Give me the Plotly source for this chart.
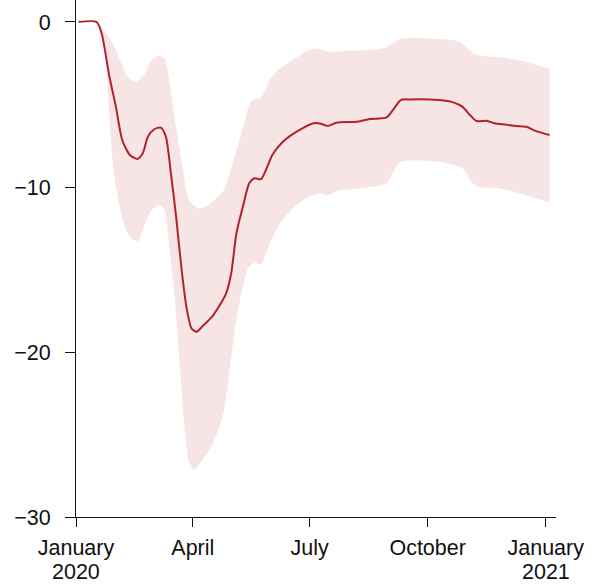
import plotly.graph_objects as go

# Central estimate (percent change) over 2020
mean_dates = [
    "2020-01-03", "2020-01-17", "2020-01-21", "2020-01-27", "2020-02-01", "2020-02-06",
    "2020-02-12", "2020-02-18", "2020-02-22", "2020-02-26", "2020-03-02", "2020-03-07",
    "2020-03-11", "2020-03-15", "2020-03-19", "2020-03-23", "2020-03-27", "2020-03-31",
    "2020-04-04", "2020-04-09", "2020-04-17", "2020-04-27", "2020-05-01", "2020-05-05",
    "2020-05-10", "2020-05-15", "2020-05-19", "2020-05-24", "2020-05-28", "2020-06-02",
    "2020-06-09", "2020-06-15", "2020-06-23", "2020-07-04", "2020-07-09", "2020-07-15",
    "2020-07-22", "2020-08-07", "2020-08-17", "2020-08-30", "2020-09-04", "2020-09-10",
    "2020-09-17", "2020-10-10", "2020-10-21", "2020-10-28", "2020-11-03", "2020-11-08",
    "2020-11-16", "2020-11-22", "2020-12-01", "2020-12-09", "2020-12-17", "2020-12-24",
    "2021-01-04",
]
mean_values = [
    0.0, 0.0, -0.7, -3.3, -5.1, -7.15,
    -8.06, -8.3, -7.96, -6.95, -6.5, -6.4,
    -6.95, -9.2, -11.8, -14.8, -17.25, -18.57,
    -18.77, -18.4, -17.76, -16.44, -15.2, -12.8,
    -11.2, -9.78, -9.47, -9.53, -8.97, -8.06,
    -7.35, -6.95, -6.55, -6.14, -6.15, -6.3,
    -6.1, -6.04, -5.88, -5.78, -5.33, -4.73,
    -4.69, -4.73, -4.87, -5.13, -5.64, -6.0,
    -5.98, -6.14, -6.22, -6.3, -6.35, -6.6,
    -6.85,
]

# Upper bound of the uncertainty interval
upper_dates = [
    "2020-01-03", "2020-01-18", "2020-01-24", "2020-01-29", "2020-02-05", "2020-02-10",
    "2020-02-17", "2020-02-23", "2020-02-29", "2020-03-06", "2020-03-10", "2020-03-14",
    "2020-03-19", "2020-03-24", "2020-03-29", "2020-04-06", "2020-04-14", "2020-04-25",
    "2020-05-02", "2020-05-09", "2020-05-16", "2020-05-20", "2020-05-24", "2020-05-31",
    "2020-06-08", "2020-06-18", "2020-06-28", "2020-07-06", "2020-07-17", "2020-08-01",
    "2020-08-27", "2020-09-04", "2020-09-10", "2020-10-05", "2020-10-26", "2020-11-01",
    "2020-11-08", "2020-11-26", "2020-12-17", "2020-12-27", "2021-01-04",
]
upper_values = [
    0.0, 0.0, -0.7, -1.2, -2.4, -3.3,
    -3.65, -3.2, -2.3, -2.06, -2.2, -3.7,
    -6.35, -8.77, -10.8, -11.3, -11.03, -10.2,
    -8.56, -6.75, -4.83, -4.67, -4.62, -3.5,
    -2.8, -2.3, -1.8, -1.6, -1.8, -1.74,
    -1.6, -1.3, -1.0, -1.0, -1.2, -1.6,
    -2.0, -2.14, -2.4, -2.67, -2.8,
]

# Lower bound of the uncertainty interval
lower_dates = [
    "2020-01-03", "2020-01-18", "2020-01-24", "2020-01-27", "2020-01-30", "2020-02-03",
    "2020-02-08", "2020-02-13", "2020-02-18", "2020-02-23", "2020-02-29", "2020-03-06",
    "2020-03-10", "2020-03-14", "2020-03-18", "2020-03-22", "2020-03-26", "2020-03-29",
    "2020-04-02", "2020-04-08", "2020-04-17", "2020-04-25", "2020-04-30", "2020-05-04",
    "2020-05-09", "2020-05-15", "2020-05-20", "2020-05-24", "2020-05-30", "2020-06-08",
    "2020-06-18", "2020-06-28", "2020-07-09", "2020-07-15", "2020-07-24", "2020-08-01",
    "2020-08-30", "2020-09-05", "2020-09-10", "2020-10-10", "2020-10-28", "2020-11-05",
    "2020-11-10", "2020-11-26", "2020-12-12", "2020-12-27", "2021-01-04",
]
lower_values = [
    0.0, 0.0, -2.3, -5.7, -8.77, -10.8,
    -12.4, -13.1, -13.3, -12.4, -11.4, -11.1,
    -11.4, -13.8, -16.8, -20.9, -24.9, -26.6,
    -27.15, -26.6, -25.5, -23.7, -20.9, -18.5,
    -16.4, -14.8, -14.6, -14.7, -13.6, -12.2,
    -11.3, -10.7, -10.4, -10.5, -10.2, -10.15,
    -9.78, -8.97, -8.47, -8.47, -8.87, -9.78,
    -10.0, -10.1, -10.4, -10.75, -10.95,
]

# Axis ticks (month names on the axis, year written beneath each January)
x_tick_dates = ["2020-01-01", "2020-04-01", "2020-07-01", "2020-10-01", "2021-01-01"]
x_tick_labels = ["January", "April", "July", "October", "January"]
year_dates = ["2020-01-01", "2021-01-01"]
year_labels = ["2020", "2021"]
y_tick_values = [-30, -20, -10, 0]
y_tick_labels = ["\u221230", "\u221220", "\u221210", "0"]

LINE_RED = "#b3212a"
BAND_PINK = "#f7e5e5"
INK = "#111111"
FONT = "Liberation Sans, Arial, Helvetica, sans-serif"
FONT_SIZE = 21.5

fig = go.Figure()

fig.add_trace(go.Scatter(
    x=lower_dates, y=lower_values, mode="lines",
    line=dict(width=0, shape="spline", smoothing=0.7),
    hoverinfo="skip", showlegend=False,
))
fig.add_trace(go.Scatter(
    x=upper_dates, y=upper_values, mode="lines",
    line=dict(width=0, shape="spline", smoothing=0.7),
    fill="tonexty", fillcolor=BAND_PINK,
    hoverinfo="skip", showlegend=False,
))
fig.add_trace(go.Scatter(
    x=mean_dates, y=mean_values, mode="lines",
    line=dict(color=LINE_RED, width=2, shape="spline", smoothing=0.7),
    showlegend=False,
))

for d, label in zip(year_dates, year_labels):
    fig.add_annotation(
        x=d, xref="x", y=0, yref="paper",
        text=label, showarrow=False,
        xanchor="center", yanchor="middle", yshift=-55,
        font=dict(family=FONT, size=FONT_SIZE, color=INK),
    )

fig.update_layout(
    width=600, height=586,
    margin=dict(l=76, r=44, t=0, b=69, autoexpand=False),
    paper_bgcolor="white", plot_bgcolor="white",
    font=dict(family=FONT, size=FONT_SIZE, color=INK),
)
fig.update_xaxes(
    type="date",
    range=["2020-01-01", "2021-01-09"],
    tickmode="array", tickvals=x_tick_dates, ticktext=x_tick_labels,
    ticks="outside", ticklen=9, tickwidth=1, tickcolor=INK,
    showline=True, linecolor=INK, linewidth=1,
    showgrid=False, zeroline=False, automargin=False,
    ticklabelstandoff=2,
)
fig.update_yaxes(
    range=[-30, 1.333],
    tickmode="array", tickvals=y_tick_values, ticktext=y_tick_labels,
    ticks="outside", ticklen=10, tickwidth=1, tickcolor=INK,
    showline=True, linecolor=INK, linewidth=1,
    showgrid=False, zeroline=False, automargin=False,
    ticklabelstandoff=10,
)

fig.write_html("out.html")
